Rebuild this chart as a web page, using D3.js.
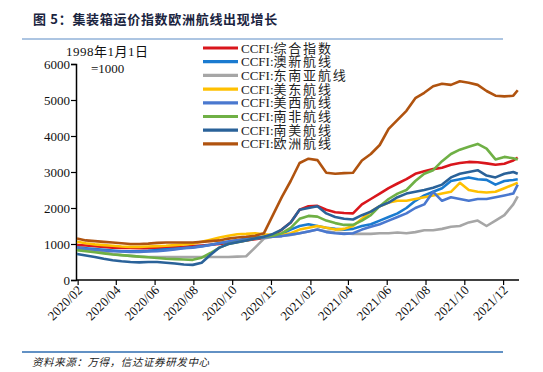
<!DOCTYPE html>
<html><head><meta charset="utf-8">
<script src="https://cdn.jsdelivr.net/npm/d3@7"></script>
<style>
body{margin:0;background:#fff;}
svg{display:block;}
</style></head>
<body>
<svg id="c" width="543" height="372"></svg>
<script>
const dates = ["2020-01-31","2020-02-14","2020-02-28","2020-03-13","2020-03-27","2020-04-10","2020-04-24","2020-05-08","2020-05-22","2020-06-05","2020-06-19","2020-07-03","2020-07-17","2020-07-31","2020-08-14","2020-08-28","2020-09-11","2020-09-25","2020-10-09","2020-10-23","2020-11-06","2020-11-20","2020-12-04","2020-12-18","2021-01-01","2021-01-15","2021-01-29","2021-02-12","2021-02-26","2021-03-12","2021-03-26","2021-04-09","2021-04-23","2021-05-07","2021-05-21","2021-06-04","2021-06-18","2021-07-02","2021-07-16","2021-07-30","2021-08-13","2021-08-27","2021-09-10","2021-09-24","2021-10-08","2021-10-22","2021-11-05","2021-11-19","2021-12-03","2021-12-17","2021-12-24"];
const composite = [970,960,940,920,900,890,890,880,880,890,900,910,920,940,960,980,1000,1030,1060,1100,1130,1170,1230,1400,1600,1950,2050,2060,1950,1880,1860,1850,2100,2250,2400,2550,2680,2800,2950,3020,3080,3120,3200,3250,3280,3270,3240,3200,3230,3320,3400];
const ausNz = [900,880,860,840,820,800,800,800,810,830,850,870,890,910,940,980,1020,1060,1100,1150,1180,1200,1220,1280,1400,1500,1550,1500,1450,1420,1400,1420,1500,1550,1650,1750,1850,2000,2200,2350,2450,2550,2750,2800,2850,2800,2780,2650,2750,2780,2800];
const seAsia = [880,850,800,760,720,690,670,650,640,640,640,640,640,640,640,640,640,640,650,660,900,1150,1200,1220,1250,1300,1350,1400,1350,1320,1300,1280,1280,1280,1300,1300,1320,1300,1330,1380,1380,1420,1480,1500,1600,1650,1500,1650,1800,2100,2320];
const usEast = [1060,1020,990,970,950,930,920,920,930,940,950,970,990,1010,1060,1120,1180,1230,1270,1280,1300,1270,1250,1250,1300,1400,1450,1500,1450,1400,1420,1500,1700,1900,2050,2150,2200,2200,2250,2300,2350,2400,2450,2700,2500,2450,2430,2450,2550,2650,2700];
const usWest = [880,860,840,820,800,790,780,780,790,800,820,850,880,900,930,970,1030,1070,1100,1130,1150,1180,1200,1220,1260,1300,1350,1400,1330,1300,1280,1300,1400,1480,1550,1650,1750,1850,2000,2100,2450,2200,2300,2250,2200,2250,2250,2300,2350,2400,2650];
const southAfrica = [830,800,770,740,710,690,670,650,630,610,590,580,570,560,620,750,900,1000,1050,1100,1150,1200,1230,1300,1450,1700,1780,1760,1650,1580,1530,1530,1650,1800,2050,2250,2400,2500,2750,2950,3050,3300,3500,3620,3700,3780,3650,3350,3420,3380,3350];
const southAmerica = [720,680,640,590,550,520,500,490,500,500,480,460,430,420,480,700,900,1000,1050,1100,1150,1200,1280,1400,1600,1950,2000,2050,1850,1750,1700,1680,1800,1900,2050,2150,2300,2400,2450,2500,2560,2650,2850,2950,3000,3050,2900,2850,2950,3000,2950];
const europe = [1150,1100,1080,1060,1040,1020,1000,1000,1010,1030,1040,1040,1040,1040,1060,1080,1100,1150,1180,1200,1230,1300,1800,2300,2750,3250,3370,3330,2980,2950,2970,2980,3320,3500,3750,4200,4450,4700,5050,5200,5380,5450,5420,5520,5480,5420,5250,5120,5100,5120,5270];
const seriesNames = ["CCFI:综合指数","CCFI:澳新航线","CCFI:东南亚航线","CCFI:美东航线","CCFI:美西航线","CCFI:南非航线","CCFI:南美航线","CCFI:欧洲航线"];
const seriesColors = ["#D9161C","#1A7BD0","#A6A6A6","#FFC000","#4A78CF","#6FB045","#2A6299","#B0530F"];
const yTicks = [0,1000,2000,3000,4000,5000,6000];
const xTickDates = ["2020-02-01","2020-04-01","2020-06-01","2020-08-01","2020-10-01","2020-12-01","2021-02-01","2021-04-01","2021-06-01","2021-08-01","2021-10-01","2021-12-01"];

const seriesValues = [composite, ausNz, seAsia, usEast, usWest, southAfrica, southAmerica, europe];
const parse = d3.timeParse("%Y-%m-%d");
const dateObjs = dates.map(parse);

const svg = d3.select("#c");
const serif = "'Liberation Serif','Times New Roman','Noto Sans CJK SC',serif";
const cjk = "'Noto Sans CJK SC',sans-serif";

// title
svg.append("text").attr("x",33).attr("y",24).attr("font-family",cjk).attr("font-weight","bold")
  .attr("font-size",13).attr("letter-spacing",0.7).attr("fill","#1a2440").text("图 5：集装箱运价指数欧洲航线出现增长");
svg.append("line").attr("x1",22).attr("x2",503).attr("y1",39).attr("y2",39).attr("stroke","#5B8BC5").attr("stroke-width",1);
svg.append("line").attr("x1",22).attr("x2",503).attr("y1",352).attr("y2",352).attr("stroke","#2E6DB0").attr("stroke-width",1.5);
svg.append("text").attr("x",32).attr("y",366).attr("font-family",cjk).attr("font-style","italic")
  .attr("font-size",10.5).attr("letter-spacing",0.6).attr("fill","#222").text("资料来源：万得，信达证券研发中心");

const x = d3.scaleTime().domain([parse("2020-01-31"), parse("2021-12-26")]).range([77, 519]);
const y = d3.scaleLinear().domain([0,6000]).range([280,64]);

// y axis
const yAxis = svg.append("g").attr("transform","translate(76,0)")
  .call(d3.axisLeft(y).tickValues(yTicks).tickSize(5).tickFormat(d3.format("d")));
yAxis.select(".domain").attr("stroke","#000").attr("stroke-width",1.5);
yAxis.selectAll(".tick line").attr("stroke","#000").attr("stroke-width",1.2);
yAxis.selectAll("text").attr("font-family",serif).attr("font-size",13).attr("fill","#111").attr("x",-6);

// x axis
const xAxis = svg.append("g").attr("transform","translate(0,280)")
  .call(d3.axisBottom(x).tickValues(xTickDates.map(parse)).tickSize(5).tickFormat(d3.timeFormat("%Y/%m")));
xAxis.select(".domain").attr("stroke","#000").attr("stroke-width",1.5).attr("d","M76,0H519");
xAxis.selectAll(".tick line").attr("stroke","#000").attr("stroke-width",1.2);
xAxis.selectAll("text").attr("font-family",serif).attr("font-size",13).attr("fill","#111")
  .attr("text-anchor","end").attr("dy",0).attr("y",0)
  .attr("transform","translate(5,11) rotate(-45)");

// annotation
svg.append("text").attr("x",66).attr("y",56).attr("font-family",serif).attr("font-size",13).attr("letter-spacing",0.5).attr("fill","#111").text("1998年1月1日");
svg.append("text").attr("x",91).attr("y",73).attr("font-family",serif).attr("font-size",13).attr("fill","#111").text("=1000");

// lines
const line = d3.line().x((d,i)=>x(dateObjs[i])).y(d=>y(d));
seriesValues.forEach((vals,k)=>{
  svg.append("path").datum(vals).attr("d",line).attr("fill","none")
    .attr("stroke",seriesColors[k]).attr("stroke-width",2.6).attr("stroke-linejoin","round");
});

// legend
const lg = svg.append("g");
seriesNames.forEach((n,k)=>{
  const yy = 48 + k*13.7;
  lg.append("line").attr("x1",203).attr("x2",238).attr("y1",yy).attr("y2",yy)
    .attr("stroke",seriesColors[k]).attr("stroke-width",3.2);
  const t = lg.append("text").attr("x",241).attr("y",yy+4.5).attr("font-family",serif).attr("font-size",13)
    .attr("fill","#222");
  t.append("tspan").text(n.slice(0,5));
  t.append("tspan").attr("letter-spacing",1.8).text(n.slice(5));
});
</script>
</body></html>
